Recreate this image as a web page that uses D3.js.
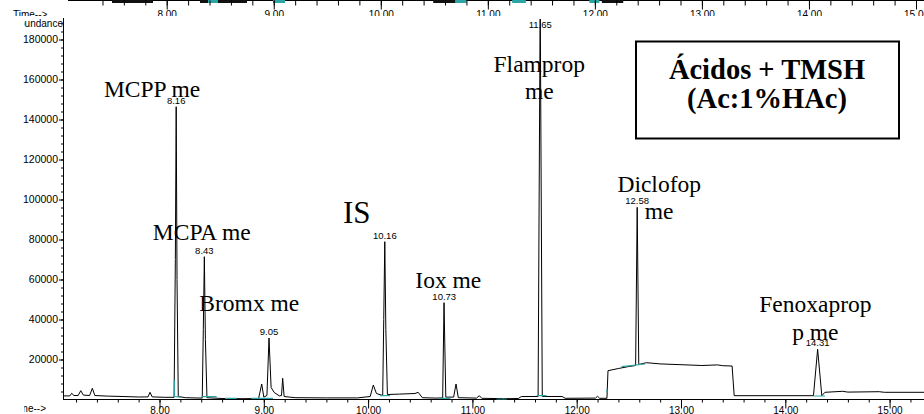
<!DOCTYPE html>
<html>
<head>
<meta charset="utf-8">
<script src="https://cdn.jsdelivr.net/npm/d3@7"></script>
<style>
  body { margin: 0; background: #fff; }
  svg { display: block; }
  .tick text { font-family: "Liberation Sans", Arial, sans-serif; font-size: 10px; fill: #000; }
</style>
</head>
<body>
<div id="viz-container"></div>
<script>
// chromatogram trace (retention time in min, abundance)
let traceTime = [7.08, 7.14, 7.158, 7.18, 7.22, 7.245, 7.27, 7.33, 7.356, 7.38, 7.50, 7.65, 7.80, 7.89, 7.909, 7.93, 8.05,
  8.14, 8.152, 8.16, 8.168, 8.18, 8.25, 8.41, 8.42, 8.43, 8.44, 8.455, 8.60, 8.80, 8.95, 8.98, 9.00, 9.03, 9.05, 9.07, 9.10,
  9.15, 9.17, 9.181, 9.195, 9.30, 9.60, 9.90, 10.02, 10.05, 10.08, 10.14, 10.15, 10.16, 10.17, 10.185, 10.30, 10.45, 10.48,
  10.52, 10.65, 10.715, 10.728, 10.745, 10.82, 10.843, 10.865, 11.04, 11.066, 11.09, 11.30, 11.44, 11.47, 11.63, 11.65,
  11.67, 11.86, 11.89, 12.18, 12.20, 12.22, 12.29, 12.30, 12.40, 12.50, 12.565, 12.58, 12.595, 12.67, 12.80, 13.00, 13.20,
  13.35, 13.40, 13.49, 13.51, 14.27, 14.31, 14.35, 14.38, 14.55, 14.60, 14.90, 14.95, 15.35];
let traceAbund = [1800, 1800, 3100, 2000, 2000, 4400, 2200, 2000, 5600, 2000, 1700, 1500, 1250, 1300, 3600, 1300, 1100,
  1100, 70000, 146400, 60000, 1500, 900, 700, 35000, 71400, 30000, 900, 500, 400, 500, 7750, 1200, 2000, 30750, 6000, 3500,
  1800, 2000, 10600, 1500, 900, 800, 800, 1500, 7250, 3000, 2000, 40000, 78900, 35000, 2500, 2700, 3000, 3600,
  900, 700, 800, 48400, 1200, 1200, 7750, 900, 700, 1900, 600, 400, 500, 1500, 1500, 200000,
  1500, 1500, 600, 700, 1600, 600, 600, 14400, 15500, 16500, 17000, 96100, 17500, 18400, 17800, 17400, 17000,
  17300, 16900, 16750, 1900, 1900, 25100, 1900, 3600, 4100, 3700, 3900, 3600, 3600];

// integration baselines (t1, v1, t2, v2)
let integStart = [[8.142, 9750], [8.142, 1500], [8.405, 1400], [8.628, 600], [8.88, 600], [10.114, 1900], [10.69, 600],
  [11.23, 100], [11.617, 1900], [12.29, 5100], [12.43, 16400], [14.27, 1750]];
let integEnd = [[8.142, 1500], [8.2, 1200], [8.548, 1400], [8.74, 600], [9.09, 600], [10.21, 1900], [10.79, 600],
  [11.33, 100], [11.712, 1900], [12.29, 3500], [12.655, 17750], [14.38, 1750]];

// peaks
let peakRT = [8.16, 8.43, 9.05, 10.16, 10.73, 11.65, 12.58, 14.31];
let peakTop = [146400, 71400, 30750, 78900, 48400, 200000, 96100, 25100];
let peakNames = [["MCPP me"], ["MCPA me"], ["Bromx me"], ["IS"], ["Iox me"], ["Flamprop", "me"], ["Diclofop", "me"], ["Fenoxaprop", "p me"]];
// where each name sits, in chart units (time, abundance of first baseline)
let nameTime = [7.929, 8.405, 8.861, 9.891, 10.769, 11.641, 12.791, 14.288];
let nameAbund = [151400, 79750, 44400, 88100, 55600, 163900, 103900, 43600];

// axes
let yMajor = d3.range(20000, 180001, 20000);
let yMinor = d3.range(4000, 188001, 4000);
let xMajor = [8, 9, 10, 11, 12, 13, 14, 15];
let xMinor = d3.range(7.2, 15.3, 0.2);

// strip of the chromatogram above (only its axis is visible)
let topDark = [[7.489, 7.872], [8.311, 8.75], [10.49, 10.77], [12.065, 12.265]];
let topCyan = [[8.386, 8.479], [8.993, 9.105], [10.694, 10.80], [11.227, 11.355], [11.948, 12.042]];

let boxLines = ["Ácidos + TMSH", "(Ac:1%HAc)"];

let W = 924, H = 414;
let serif = "'Liberation Serif', 'Times New Roman', serif";
let sans = "'Liberation Sans', Arial, sans-serif";
let viz = d3.select("#viz-container").append("svg")
    .attr("width", W).attr("height", H);

let xScale = d3.scaleLinear().domain([8, 15]).range([159.5, 889.6]);
let yScale = d3.scaleLinear().domain([0, 180000]).range([399.5, 39.5]);
let topScale = d3.scaleLinear().domain([8, 15]).range([166.7, 916]);
let x0 = 63, yAxisTop = 18, yBase = 399.5;

let defs = viz.append("defs");
defs.append("clipPath").attr("id", "plotClip").append("rect")
    .attr("x", x0).attr("y", 19).attr("width", W - x0).attr("height", yBase - 19);
defs.append("clipPath").attr("id", "topClip").append("rect")
    .attr("x", 0).attr("y", 0).attr("width", W).attr("height", 16);
defs.append("clipPath").attr("id", "leftClip").append("rect")
    .attr("x", 24).attr("y", 16).attr("width", W).attr("height", H);

// ---- top strip
let topStrip = viz.append("g").attr("clip-path", "url(#topClip)");
topStrip.append("line").attr("x1", 68).attr("x2", W).attr("y1", 0.5).attr("y2", 0.5).attr("stroke", "#000");
topStrip.selectAll(".tdark").data(topDark).enter().append("line")
    .attr("x1", d => topScale(d[0])).attr("x2", d => topScale(d[1]))
    .attr("y1", 1.5).attr("y2", 1.5).attr("stroke", "#111").attr("stroke-width", 3);
topStrip.selectAll(".tcyan").data(topCyan).enter().append("line")
    .attr("x1", d => topScale(d[0])).attr("x2", d => topScale(d[1]))
    .attr("y1", 1.5).attr("y2", 1.5).attr("stroke", "#2aa6a6").attr("stroke-width", 3);
let topMinor = topStrip.append("g").attr("transform", "translate(0,0.5)")
    .call(d3.axisBottom(topScale).tickValues(d3.range(7.4, 15.3, 0.2)).tickSize(5).tickFormat(""));
let topMajor = topStrip.append("g").attr("transform", "translate(0,0.5)")
    .call(d3.axisBottom(topScale).tickValues(xMajor).tickSize(9).tickPadding(1).tickFormat(d3.format(".2f")));
[topMinor, topMajor].forEach(g => { g.select(".domain").remove(); g.selectAll("line").attr("stroke", "#000"); });
topStrip.append("text").attr("x", 13).attr("y", 18)
    .style("font-family", sans).style("font-size", "10px")
    .text("Time-->");

// ---- y axis
let yMinorG = viz.append("g").attr("transform", "translate(" + x0 + ",0)")
    .call(d3.axisLeft(yScale).tickValues(yMinor).tickSize(2).tickFormat(""));
let yMajorG = viz.append("g").attr("transform", "translate(" + x0 + ",0)")
    .call(d3.axisLeft(yScale).tickValues(yMajor).tickSize(4).tickPadding(1).tickFormat(d3.format("d")));
[yMinorG, yMajorG].forEach(g => g.select(".domain").remove());
yMajorG.selectAll("text").style("font-size", "10.5px");
viz.append("line").attr("x1", x0 + 0.5).attr("x2", x0 + 0.5).attr("y1", yAxisTop).attr("y2", yBase)
    .attr("stroke", "#000");

// ---- x axis
let xMinorG = viz.append("g").attr("transform", "translate(0," + yBase + ")")
    .call(d3.axisBottom(xScale).tickValues(xMinor).tickSize(3).tickFormat(""));
let xMajorG = viz.append("g").attr("transform", "translate(0," + yBase + ")")
    .call(d3.axisBottom(xScale).tickValues(xMajor).tickSize(9).tickPadding(-2).tickFormat(d3.format(".2f")));
[xMinorG, xMajorG].forEach(g => g.select(".domain").remove());
viz.append("line").attr("x1", x0).attr("x2", W).attr("y1", yBase).attr("y2", yBase).attr("stroke", "#000");

let side = viz.append("g").attr("clip-path", "url(#leftClip)")
    .style("font-family", sans).style("font-size", "10px");
side.append("text").attr("x", 63).attr("y", 27).attr("text-anchor", "end").text("Abundance");
side.append("text").attr("x", 46).attr("y", 412).attr("text-anchor", "end").text("Time-->");

// ---- trace
let plot = viz.append("g").attr("clip-path", "url(#plotClip)");
let lineGenerator = d3.line()
    .x(d => xScale(d[0]))
    .y(d => yScale(d[1]));
plot.append("path")
    .datum(d3.zip(traceTime, traceAbund))
    .attr("fill", "none")
    .attr("stroke", "#000")
    .attr("stroke-width", 1)
    .attr("d", lineGenerator);
plot.selectAll(".integ").data(d3.zip(integStart, integEnd)).enter().append("line")
    .attr("x1", d => xScale(d[0][0])).attr("y1", d => yScale(d[0][1]))
    .attr("x2", d => xScale(d[1][0])).attr("y2", d => yScale(d[1][1]))
    .attr("stroke", "#2aa6a6").attr("stroke-width", 1.2);

// retention time labels
viz.selectAll(".rt").data(d3.zip(peakRT, peakTop)).enter().append("text")
    .attr("x", d => xScale(d[0]))
    .attr("y", d => Math.max(yScale(d[1]), 31.5) - 3.2)
    .attr("text-anchor", "middle")
    .style("font-family", sans)
    .style("font-size", "9.5px")
    .text(d => d3.format(".2f")(d[0]));

// compound names
let names = viz.selectAll(".pname").data(d3.range(peakNames.length)).enter().append("text")
    .attr("x", i => xScale(nameTime[i]))
    .attr("y", i => yScale(nameAbund[i]))
    .attr("text-anchor", "middle")
    .style("font-family", serif)
    .style("font-size", i => peakNames[i][0] === "IS" ? "31px" : "23.5px");
names.selectAll("tspan").data(i => peakNames[i].map(s => [s, nameTime[i]])).enter().append("tspan")
    .attr("x", d => xScale(d[1]))
    .attr("dy", (d, j) => j === 0 ? 0 : 27.6)
    .text(d => d[0]);

// ---- title box
viz.append("rect").attr("x", 636).attr("y", 41.5).attr("width", 263).attr("height", 97)
    .attr("fill", "#fff").attr("stroke", "#000").attr("stroke-width", 2);
viz.selectAll(".boxtext").data(boxLines).enter().append("text")
    .attr("x", 767).attr("y", (d, i) => 79 + i * 29)
    .attr("text-anchor", "middle")
    .style("font-family", serif)
    .style("font-weight", "bold")
    .style("font-size", "28.5px")
    .text(d => d);
</script>
</body>
</html>
